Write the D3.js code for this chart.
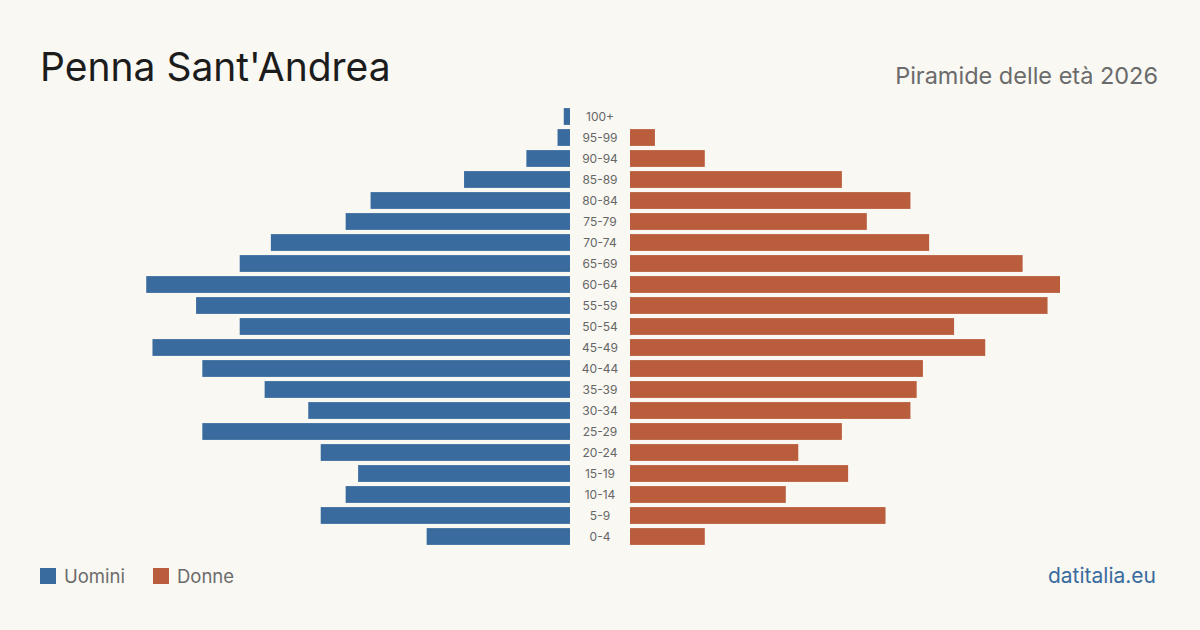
<!DOCTYPE html>
<html>
<head>
<meta charset="utf-8">
<title>Penna Sant'Andrea</title>
<script src="https://d3js.org/d3.v7.min.js"></script>
<style>
  body { margin: 0; background: #f9f8f3; }
  svg { display: block; font-family: Inter, "Noto Sans", sans-serif; }
</style>
</head>
<body>
<div id="chart"></div>
<script>

// age classes, top to bottom
var ageGroups = ["100+", "95-99", "90-94", "85-89", "80-84", "75-79", "70-74", "65-69", "60-64", "55-59",
  "50-54", "45-49", "40-44", "35-39", "30-34", "25-29", "20-24", "15-19", "10-14", "5-9", "0-4"];

var men   = [1, 2, 7, 17, 32, 36, 48, 53, 68, 60, 53, 67, 59, 49, 42, 59, 40, 34, 36, 40, 23];
var women = [0, 4, 12, 34, 45, 38, 48, 63, 69, 67, 52, 57, 47, 46, 45, 34, 27, 35, 25, 41, 12];

var W = 1200, H = 630;
var centre = 600, gap = 30, maxLen = 430;

var svg = d3.select("#chart").append("svg")
  .attr("width", W).attr("height", H);

svg.append("rect").attr("width", W).attr("height", H).attr("fill", "#f9f8f3");

var maxVal = d3.max(men.concat(women));

var x = d3.scaleLinear()
  .domain([0, maxVal])
  .range([0, maxLen]);

var y = d3.scaleBand()
  .domain(ageGroups)
  .range([106, 547])
  .paddingInner(0.2)
  .paddingOuter(0.1);

// men on the left
svg.append("g").selectAll("rect")
  .data(ageGroups)
  .enter().append("rect")
    .attr("x", function(d, i) { return centre - gap - x(men[i]); })
    .attr("y", function(d) { return y(d); })
    .attr("width", function(d, i) { return x(men[i]); })
    .attr("height", y.bandwidth())
    .attr("fill", "#3a6b9e");

// women on the right
svg.append("g").selectAll("rect")
  .data(ageGroups)
  .enter().append("rect")
    .attr("x", centre + gap)
    .attr("y", function(d) { return y(d); })
    .attr("width", function(d, i) { return x(women[i]); })
    .attr("height", y.bandwidth())
    .attr("fill", "#b95d3c");

// age labels
svg.append("g").selectAll("text")
  .data(ageGroups)
  .enter().append("text")
    .attr("x", centre)
    .attr("y", function(d) { return y(d) + y.bandwidth() / 2; })
    .attr("dy", "0.35em")
    .attr("text-anchor", "middle")
    .attr("font-size", 12)
    .attr("fill", "#666")
    .text(function(d) { return d; });

// titles
svg.append("text")
  .attr("x", 40).attr("y", 81)
  .attr("font-size", 39)
  .attr("fill", "#1c1c1c")
  .text("Penna Sant'Andrea");

svg.append("text")
  .attr("x", 1158).attr("y", 84)
  .attr("text-anchor", "end")
  .attr("font-size", 23.5)
  .attr("fill", "#6b6b6b")
  .text("Piramide delle età 2026");

// legend
var legend = [{label: "Uomini", color: "#3a6b9e", x: 40}, {label: "Donne", color: "#b95d3c", x: 153}];
var lg = svg.append("g").selectAll("g")
  .data(legend)
  .enter().append("g")
    .attr("transform", function(d) { return "translate(" + d.x + ",568)"; });
lg.append("rect").attr("width", 16).attr("height", 16).attr("fill", function(d) { return d.color; });
lg.append("text")
  .attr("x", 24).attr("y", 15)
  .attr("font-size", 18.5)
  .attr("fill", "#6b6b6b")
  .text(function(d) { return d.label; });

svg.append("text")
  .attr("x", 1156).attr("y", 583)
  .attr("text-anchor", "end")
  .attr("font-size", 21)
  .attr("fill", "#3a6b9e")
  .text("datitalia.eu");

</script>
</body>
</html>
